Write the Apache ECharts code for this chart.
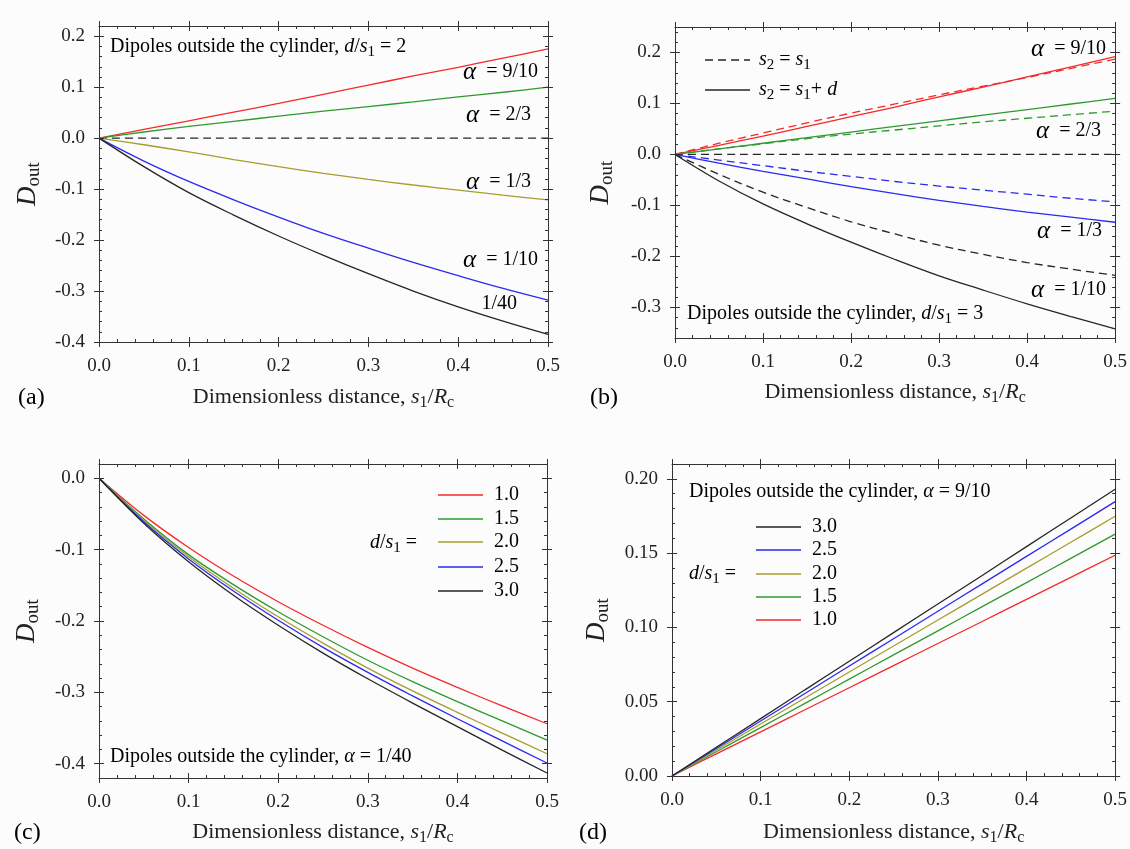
<!DOCTYPE html>
<html><head><meta charset="utf-8">
<script src="https://cdn.jsdelivr.net/npm/echarts@6/dist/echarts.min.js"></script>
<style>html,body{margin:0;padding:0;background:#fcfcfc}#c{width:1130px;height:849px}</style>
</head><body><div id="c"></div>
<script>
// ---------- data ----------
const xs = [0,0.05,0.1,0.15,0.2,0.25,0.3,0.35,0.4,0.45,0.5];
const xTicks = [0,0.1,0.2,0.3,0.4,0.5];
const aYTicks = [-0.4,-0.3,-0.2,-0.1,0,0.1,0.2];
const bYTicks = [-0.3,-0.2,-0.1,0,0.1,0.2];
const cYTicks = [-0.4,-0.3,-0.2,-0.1,0];
const dYTicks = [0,0.05,0.1,0.15,0.2];

// (a) d/s1 = 2
const a910 = [0,0.017,0.034,0.051,0.068,0.086,0.104,0.122,0.139,0.157,0.175];
const a23  = [0,0.012,0.023,0.033,0.043,0.053,0.062,0.071,0.081,0.090,0.100];
const a13  = [0,-0.013,-0.027,-0.042,-0.056,-0.069,-0.081,-0.092,-0.102,-0.112,-0.121];
const a110 = [0,-0.045,-0.085,-0.121,-0.155,-0.187,-0.216,-0.244,-0.270,-0.295,-0.318];
const a140 = [0,-0.056,-0.107,-0.151,-0.192,-0.230,-0.266,-0.300,-0.331,-0.359,-0.385];
const zeroLine = [0,0,0,0,0,0,0,0,0,0,0];

// (b) d/s1 = 3 ; solid: s2 = s1 + d, dashed: s2 = s1
const bRedSolid   = [0,0.018,0.036,0.055,0.074,0.093,0.113,0.132,0.152,0.172,0.192];
const bRedDash    = [0,0.022,0.042,0.062,0.081,0.099,0.117,0.134,0.151,0.169,0.187];
const bGreenSolid = [0,0.011,0.022,0.033,0.044,0.055,0.066,0.077,0.088,0.099,0.110];
const bGreenDash  = [0,0.011,0.021,0.031,0.040,0.048,0.056,0.064,0.071,0.078,0.085];
const bBlueSolid  = [0,-0.017,-0.033,-0.048,-0.063,-0.077,-0.090,-0.102,-0.113,-0.123,-0.133];
const bBlueDash   = [0,-0.011,-0.022,-0.033,-0.043,-0.053,-0.062,-0.070,-0.078,-0.086,-0.093];
const bBlackSolid = [0,-0.052,-0.097,-0.136,-0.172,-0.206,-0.238,-0.266,-0.293,-0.318,-0.342];
const bBlackDash  = [0,-0.039,-0.074,-0.104,-0.132,-0.156,-0.178,-0.196,-0.212,-0.225,-0.237];

// (c) alpha = 1/40
const c10 = [0,-0.052,-0.097,-0.137,-0.173,-0.206,-0.237,-0.266,-0.293,-0.319,-0.344];
const c15 = [0,-0.057,-0.107,-0.149,-0.187,-0.222,-0.255,-0.285,-0.313,-0.340,-0.367];
const c20 = [0,-0.059,-0.110,-0.154,-0.194,-0.231,-0.266,-0.298,-0.328,-0.357,-0.386];
const c25 = [0,-0.061,-0.113,-0.158,-0.199,-0.237,-0.272,-0.305,-0.337,-0.368,-0.399];
const c30 = [0,-0.063,-0.117,-0.164,-0.206,-0.245,-0.281,-0.315,-0.348,-0.381,-0.413];

// (d) alpha = 9/10
const d30 = [0,0.0193,0.0386,0.058,0.0772,0.0965,0.1158,0.135,0.1544,0.1737,0.193];
const d25 = [0,0.0185,0.037,0.0555,0.074,0.0924,0.1109,0.1293,0.1478,0.1662,0.1847];
const d20 = [0,0.0175,0.035,0.0525,0.07,0.0875,0.105,0.1224,0.1399,0.1573,0.1748];
const d15 = [0,0.0163,0.0326,0.0489,0.0652,0.0815,0.0977,0.114,0.1302,0.1465,0.1628];
const d10 = [0,0.0149,0.0297,0.0446,0.0594,0.0743,0.0892,0.104,0.1189,0.1337,0.1486];

// ---------- style ----------
const FF = '"Liberation Serif","Times New Roman",serif';
const AX = '#333';
const TXT = '#222';
const RED = '#f42a2a', GREEN = '#2e9a2e', OLIVE = '#a59e2c', BLUE = '#2a2af2', BLACK = '#262626';

function steps(a, b, s) { const o = []; for (let k = 0; a + k * s <= b + 1e-9; k++) o.push(Math.round((a + k * s) * 1e4) / 1e4); return o; }

const richBase = {
  n:   {fontFamily: FF, fontSize: 20, lineHeight: 26, color: TXT},
  i:   {fontFamily: FF, fontSize: 20, fontStyle: 'italic', lineHeight: 26, color: TXT},
  sub: {fontFamily: FF, fontSize: 15, lineHeight: 15, verticalAlign: 'bottom', color: TXT},
  al:  {fontFamily: FF, fontSize: 25, fontStyle: 'italic', lineHeight: 26, color: TXT},
  r:   {fontFamily: FF, fontSize: 20, lineHeight: 26, color: RED},
  g:   {fontFamily: FF, fontSize: 20, lineHeight: 26, color: GREEN},
  o:   {fontFamily: FF, fontSize: 20, lineHeight: 26, color: OLIVE},
  b:   {fontFamily: FF, fontSize: 20, lineHeight: 26, color: BLUE}
};

const grids = [
  {left: 99,  top: 26,  width: 449, height: 316},
  {left: 675, top: 27,  width: 443, height: 311},
  {left: 99,  top: 464, width: 448, height: 314},
  {left: 672, top: 464, width: 446, height: 312}
];

const xName = {
  name: '{n|Dimensionless distance, }{i|s}{sub|1}{n|/}{i|R}{sub|c}',
  nameLocation: 'middle',
  nameTextStyle: {rich: {
    n: {fontFamily: FF, fontSize: 22, lineHeight: 28, color: TXT},
    i: {fontFamily: FF, fontSize: 22, fontStyle: 'italic', lineHeight: 28, color: TXT},
    sub: {fontFamily: FF, fontSize: 16, lineHeight: 16, verticalAlign: 'bottom', color: TXT}
  }}
};
const yName = {
  name: '{D|D}{s|out}',
  nameLocation: 'middle',
  nameTextStyle: {rich: {
    D: {fontFamily: FF, fontSize: 27, fontStyle: 'italic', lineHeight: 32, color: TXT},
    s: {fontFamily: FF, fontSize: 19, lineHeight: 19, verticalAlign: 'bottom', color: TXT}
  }}
};

function axisSet(dim, gi, min, max, major, minor, fmt, nameGap, labelMargin) {
  const isX = dim === 'x';
  const p1 = isX ? 'bottom' : 'left', p2 = isX ? 'top' : 'right';
  const base = () => ({type: 'value', gridIndex: gi, min: min, max: max,
    splitLine: {show: false}, axisLine: {show: false, onZero: false},
    axisTick: {show: false}, axisLabel: {show: false}, silent: true, z: 3});
  const tick = (vals, inside, len) => ({show: true, customValues: vals, inside: inside, length: len, lineStyle: {color: AX, width: 1}});
  const lineOn = {show: true, onZero: false, lineStyle: {color: AX, width: 1}};
  const main = base();
  main.position = p1; main.axisLine = lineOn; main.axisTick = tick(major, false, 5);
  main.axisLabel = {show: true, customValues: major, formatter: v => v.toFixed(fmt), margin: labelMargin,
    fontFamily: FF, fontSize: 19, color: TXT};
  Object.assign(main, isX ? xName : yName, {nameGap: nameGap});
  const a2 = base(); a2.position = p1; a2.axisTick = tick(major, true, 5);
  const a3 = base(); a3.position = p1; a3.axisTick = tick(minor, true, 3);
  const a4 = base(); a4.position = p2; a4.axisLine = lineOn; a4.axisTick = tick(major, false, 5);
  const a5 = base(); a5.position = p2; a5.axisTick = tick(major, true, 5);
  const a6 = base(); a6.position = p2; a6.axisTick = tick(minor, true, 3);
  return [main, a2, a3, a4, a5, a6];
}

const xAxes = [], yAxes = [];
const panels = [
  {ymin: -0.4,  ymax: 0.22, major: aYTicks, minor: steps(-0.4, 0.22, 0.02),  fmt: 1, yGap: 55, xGap: 41},
  {ymin: -0.36, ymax: 0.25, major: bYTicks, minor: steps(-0.36, 0.25, 0.02), fmt: 1, yGap: 58, xGap: 40},
  {ymin: -0.42, ymax: 0.02, major: cYTicks, minor: steps(-0.42, 0.02, 0.02), fmt: 1, yGap: 56, xGap: 40},
  {ymin: 0,     ymax: 0.21, major: dYTicks, minor: steps(0, 0.21, 0.01),     fmt: 2, yGap: 59, xGap: 42}
];
panels.forEach((p, gi) => {
  xAxes.push(...axisSet('x', gi, 0, 0.5, xTicks, steps(0, 0.5, 0.02), 1, p.xGap, 15));
  yAxes.push(...axisSet('y', gi, p.ymin, p.ymax, p.major, p.minor, p.fmt, p.yGap, 14));
});

function line(gi, vals, color, dashed) {
  return {type: 'line', xAxisIndex: gi * 6, yAxisIndex: gi * 6,
    data: xs.map((x, k) => [x, vals[k]]), symbol: 'none', smooth: 0.35,
    lineStyle: {color: color, width: 1.3, type: dashed ? [8, 5] : 'solid'},
    silent: true, z: 2};
}

const series = [
  line(0, zeroLine, BLACK, true),
  line(0, a910, RED), line(0, a23, GREEN), line(0, a13, OLIVE), line(0, a110, BLUE), line(0, a140, BLACK),
  line(1, zeroLine, BLACK, true),
  line(1, bRedDash, RED, true), line(1, bRedSolid, RED),
  line(1, bGreenDash, GREEN, true), line(1, bGreenSolid, GREEN),
  line(1, bBlueDash, BLUE, true), line(1, bBlueSolid, BLUE),
  line(1, bBlackDash, BLACK, true), line(1, bBlackSolid, BLACK),
  line(2, c10, RED), line(2, c15, GREEN), line(2, c20, OLIVE), line(2, c25, BLUE), line(2, c30, BLACK),
  line(3, d10, RED), line(3, d15, GREEN), line(3, d20, OLIVE), line(3, d25, BLUE), line(3, d30, BLACK)
];

// ---------- annotations ----------
function txt(x, y, text, align, extraRich) {
  return {type: 'text', x: x, y: y, z: 10, silent: true,
    style: {text: text, rich: Object.assign({}, richBase, extraRich || {}), align: align || 'left', verticalAlign: 'middle'}};
}
function seg(x1, x2, y, color, dashed) {
  return {type: 'line', z: 10, silent: true, shape: {x1: x1, y1: y, x2: x2, y2: y},
    style: {stroke: color, lineWidth: 1.3, lineDash: dashed ? [8, 5] : null}};
}
const panelLab = {pl: {fontFamily: FF, fontSize: 24, lineHeight: 28, color: TXT}};
const legC = {
  lr: {fontFamily: FF, fontSize: 20, lineHeight: 24, color: RED},
  lg: {fontFamily: FF, fontSize: 20, lineHeight: 24, color: GREEN},
  lo: {fontFamily: FF, fontSize: 20, lineHeight: 24, color: OLIVE},
  lb: {fontFamily: FF, fontSize: 20, lineHeight: 24, color: BLUE},
  lk: {fontFamily: FF, fontSize: 20, lineHeight: 24, color: TXT}
};

const graphics = [
  // (a)
  txt(110, 47, '{n|Dipoles outside the cylinder, }{i|d}{n|/}{i|s}{sub|1}{n| = 2}'),
  txt(538, 72,  '{al|α}{n|  = }{r|9/10}', 'right'),
  txt(531, 115, '{al|α}{n|  = }{g|2/3}', 'right'),
  txt(531, 182, '{al|α}{n|  = }{o|1/3}', 'right'),
  txt(538, 260, '{al|α}{n|  = }{b|1/10}', 'right'),
  txt(517, 304, '{n|1/40}', 'right'),
  txt(18, 398, '{pl|(a)}', 'left', panelLab),
  // (b)
  seg(705, 750, 60, BLACK, true),
  txt(759, 60, '{i|s}{sub|2}{n| = }{i|s}{sub|1}'),
  seg(705, 750, 90, BLACK, false),
  txt(759, 90, '{i|s}{sub|2}{n| = }{i|s}{sub|1}{n|+ }{i|d}'),
  txt(1106, 49,  '{al|α}{n|  = }{r|9/10}', 'right'),
  txt(1101, 131, '{al|α}{n|  = }{g|2/3}', 'right'),
  txt(1102, 231, '{al|α}{n|  = }{b|1/3}', 'right'),
  txt(1106, 290, '{al|α}{n|  = 1/10}', 'right'),
  txt(687, 314, '{n|Dipoles outside the cylinder, }{i|d}{n|/}{i|s}{sub|1}{n| = 3}'),
  txt(590, 398, '{pl|(b)}', 'left', panelLab),
  // (c)
  seg(438, 483, 495, RED), txt(494, 495, '{lr|1.0}', 'left', legC),
  seg(438, 483, 519, GREEN), txt(494, 519, '{lg|1.5}', 'left', legC),
  seg(438, 483, 542, OLIVE), txt(494, 542, '{lo|2.0}', 'left', legC),
  seg(438, 483, 567, BLUE), txt(494, 567, '{lb|2.5}', 'left', legC),
  seg(438, 483, 591, BLACK), txt(494, 591, '{lk|3.0}', 'left', legC),
  txt(417, 543, '{i|d}{n|/}{i|s}{sub|1}{n| =}', 'right'),
  txt(110, 757, '{n|Dipoles outside the cylinder, }{i|α}{n| = 1/40}'),
  txt(14, 833, '{pl|(c)}', 'left', panelLab),
  // (d)
  txt(689, 492, '{n|Dipoles outside the cylinder, }{i|α}{n| = 9/10}'),
  seg(756, 801, 527, BLACK), txt(812, 527, '{lk|3.0}', 'left', legC),
  seg(756, 801, 550, BLUE), txt(812, 550, '{lb|2.5}', 'left', legC),
  seg(756, 801, 574, OLIVE), txt(812, 574, '{lo|2.0}', 'left', legC),
  seg(756, 801, 597, GREEN), txt(812, 597, '{lg|1.5}', 'left', legC),
  seg(756, 801, 620, RED), txt(812, 620, '{lr|1.0}', 'left', legC),
  txt(689, 574, '{i|d}{n|/}{i|s}{sub|1}{n| =}'),
  txt(579, 833, '{pl|(d)}', 'left', panelLab)
];

const chart = echarts.init(document.getElementById('c'), null, {renderer: 'canvas'});
chart.setOption({
  animation: false,
  backgroundColor: '#fcfcfc',
  grid: grids,
  xAxis: xAxes,
  yAxis: yAxes,
  series: series,
  graphic: {elements: graphics}
});
</script>
</body></html>
